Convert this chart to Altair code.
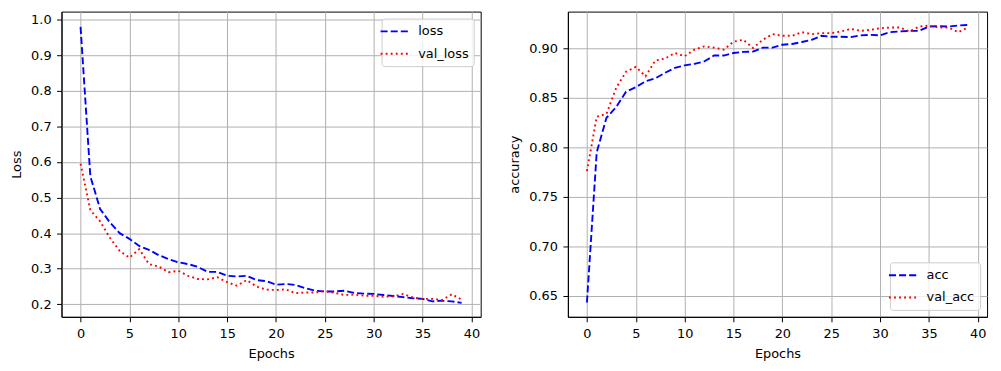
import altair as alt
import pandas as pd

epochs = list(range(40))

loss = [0.98, 0.56, 0.468, 0.43, 0.40, 0.384, 0.364, 0.353, 0.338, 0.327,
        0.318, 0.313, 0.305, 0.291, 0.291, 0.28, 0.278, 0.28, 0.268, 0.265,
        0.255, 0.257, 0.254, 0.245, 0.238, 0.236, 0.236, 0.238, 0.232, 0.23,
        0.229, 0.226, 0.223, 0.22, 0.217, 0.215, 0.208, 0.21, 0.208, 0.204]
val_loss = [0.595, 0.465, 0.433, 0.387, 0.35, 0.331, 0.355, 0.313, 0.306, 0.29,
            0.294, 0.28, 0.271, 0.27, 0.276, 0.262, 0.252, 0.268, 0.25, 0.241,
            0.24, 0.242, 0.231, 0.233, 0.233, 0.237, 0.232, 0.226, 0.227, 0.224,
            0.224, 0.221, 0.222, 0.229, 0.219, 0.215, 0.215, 0.212, 0.228, 0.213]
acc = [0.643, 0.795, 0.83, 0.841, 0.8565, 0.861, 0.867, 0.870, 0.8756, 0.8806,
       0.883, 0.8846, 0.887, 0.893, 0.893, 0.8956, 0.8967, 0.897, 0.901, 0.901,
       0.904, 0.9047, 0.9067, 0.909, 0.913, 0.912, 0.912, 0.9117, 0.9134, 0.914,
       0.9134, 0.9167, 0.9174, 0.918, 0.918, 0.9224, 0.9228, 0.9224, 0.9234, 0.924]
val_acc = [0.776, 0.831, 0.834, 0.8605, 0.8766, 0.8816, 0.872, 0.888, 0.890, 0.8956,
           0.8923, 0.899, 0.9023, 0.901, 0.899, 0.907, 0.909, 0.9007, 0.909, 0.9147,
           0.913, 0.913, 0.9167, 0.9147, 0.9157, 0.9157, 0.9174, 0.92, 0.918, 0.919,
           0.9207, 0.9214, 0.9214, 0.9174, 0.9224, 0.9234, 0.9214, 0.9214, 0.9167, 0.9214]

x_ticks = [0, 5, 10, 15, 20, 25, 30, 35, 40]
loss_ticks = [0.2, 0.3, 0.4, 0.5, 0.6, 0.7, 0.8, 0.9, 1.0]
acc_ticks = [0.65, 0.70, 0.75, 0.80, 0.85, 0.90]

FONT = "DejaVu Sans"
DASHED = [7.1, 3.1]
DOTTED = [1.9, 3.2]


def panel(s1, s2, n1, n2, ytitle, ydomain, yticks, yfmt, orient, tpad):
    df = pd.DataFrame({
        "epoch": epochs + epochs,
        "value": s1 + s2,
        "series": [n1] * len(s1) + [n2] * len(s2),
    })
    leg = alt.Legend(
        title=None, orient=orient, offset=7,
        padding=5, fillColor="rgba(255,255,255,0.8)", strokeColor="#cccccc",
        cornerRadius=3, symbolType="M-2,0H2", symbolSize=196,
        symbolStrokeWidth=1.9, labelFont=FONT, labelFontSize=13,
        labelColor="black", labelOffset=16, rowPadding=7.5,
    )
    return alt.Chart(df).mark_line(strokeWidth=1.9, strokeCap="butt").encode(
        x=alt.X("epoch:Q", title="Epochs",
                scale=alt.Scale(domain=[-1.95, 40.95], nice=False, zero=False),
                axis=alt.Axis(values=x_ticks, format="d")),
        y=alt.Y("value:Q", title=ytitle,
                scale=alt.Scale(domain=ydomain, nice=False, zero=False),
                axis=alt.Axis(values=yticks, format=yfmt, titlePadding=tpad)),
        color=alt.Color("series:N",
                        scale=alt.Scale(domain=[n1, n2], range=["blue", "red"]),
                        legend=leg),
        strokeDash=alt.StrokeDash("series:N",
                                  scale=alt.Scale(domain=[n1, n2], range=[DASHED, DOTTED]),
                                  legend=leg),
    ).properties(width=423, height=308)


left = panel(loss, val_loss, "loss", "val_loss", "Loss",
             [0.1646, 1.0231], loss_ticks, ".1f", "top-right", 7)
right = panel(acc, val_acc, "acc", "val_acc", "accuracy",
              [0.6285, 0.9375], acc_ticks, ".2f", "bottom-right", 7)

chart = alt.hconcat(left, right, spacing=27).resolve_scale(
    color="independent", strokeDash="independent"
).properties(
    padding={"left": 2, "top": 1, "right": 5, "bottom": 5}
).configure_view(
    stroke="black", strokeWidth=1
).configure_axis(
    domainColor="black", domainWidth=1,
    tickColor="black", tickSize=5, tickWidth=1,
    labelFont=FONT, labelFontSize=13, labelColor="black", labelPadding=5.5,
    gridColor="#b0b0b0", gridWidth=1,
    titleFont=FONT, titleFontSize=13, titleFontWeight="normal", titleColor="black",
    titlePadding=8,
)

chart.save("out.html", embed_options={"renderer": "svg", "actions": False})
